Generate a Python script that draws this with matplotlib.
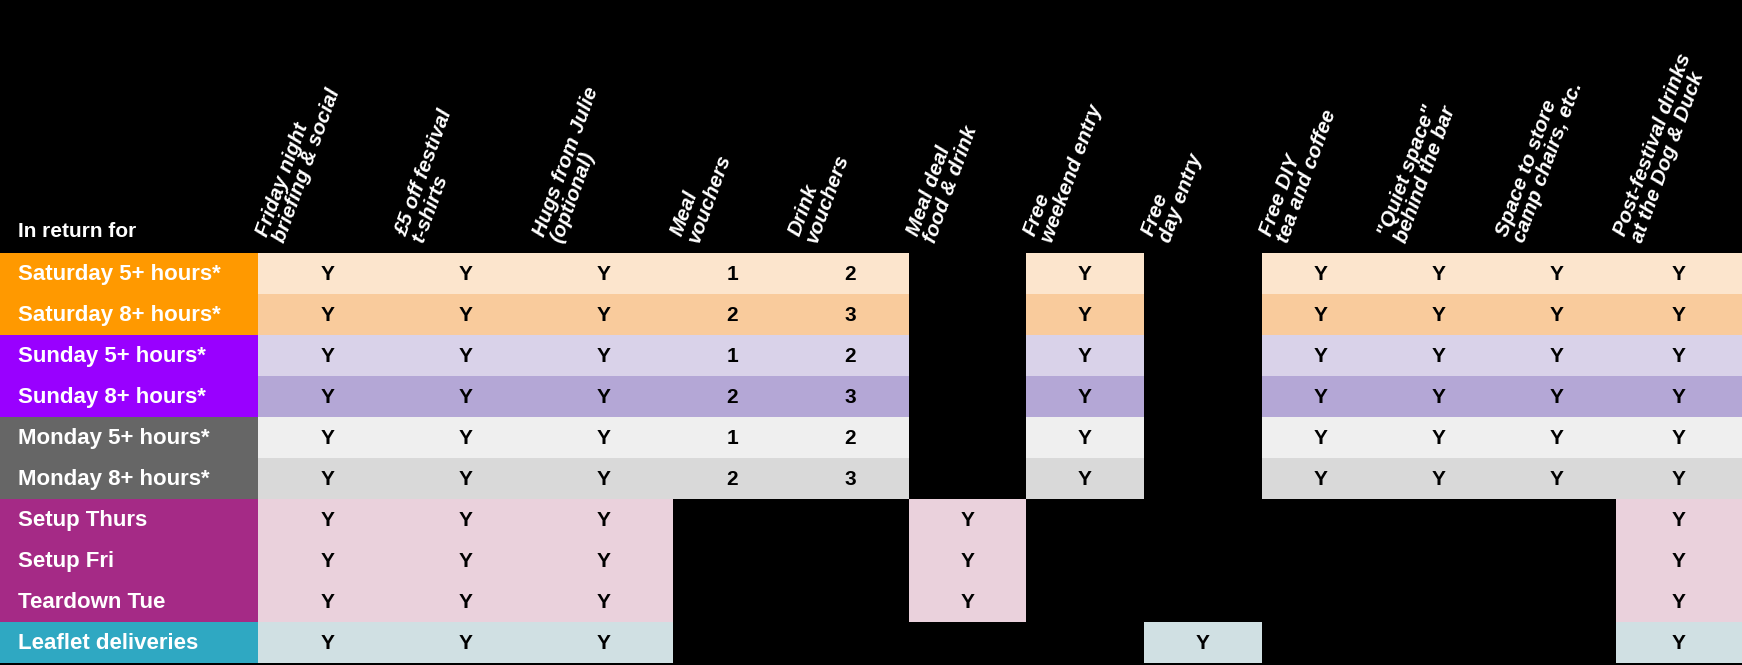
import matplotlib; matplotlib.use('Agg')
import matplotlib.pyplot as plt
from matplotlib.patches import Rectangle

plt.rcParams['font.family'] = ['Liberation Sans', 'DejaVu Sans']

columns = ["Friday night\nbriefing & social", "£5 off festival\nt-shirts", "Hugs from Julie\n(optional)",
           "Meal\nvouchers", "Drink\nvouchers", "Meal deal\nfood & drink", "Free\nweekend entry",
           "Free\nday entry", "Free DIY\ntea and coffee", "\"Quiet space\"\nbehind the bar",
           "Space to store\ncamp chairs, etc.", "Post-festival drinks\nat the Dog & Duck"]
rows = ["Saturday 5+ hours*", "Saturday 8+ hours*", "Sunday 5+ hours*", "Sunday 8+ hours*",
        "Monday 5+ hours*", "Monday 8+ hours*", "Setup Thurs", "Setup Fri", "Teardown Tue",
        "Leaflet deliveries"]
Y = "Y"
table = [
    [Y, Y, Y, "1", "2", "", Y, "", Y, Y, Y, Y],
    [Y, Y, Y, "2", "3", "", Y, "", Y, Y, Y, Y],
    [Y, Y, Y, "1", "2", "", Y, "", Y, Y, Y, Y],
    [Y, Y, Y, "2", "3", "", Y, "", Y, Y, Y, Y],
    [Y, Y, Y, "1", "2", "", Y, "", Y, Y, Y, Y],
    [Y, Y, Y, "2", "3", "", Y, "", Y, Y, Y, Y],
    [Y, Y, Y, "", "", Y, "", "", "", "", "", Y],
    [Y, Y, Y, "", "", Y, "", "", "", "", "", Y],
    [Y, Y, Y, "", "", Y, "", "", "", "", "", Y],
    [Y, Y, Y, "", "", "", "", Y, "", "", "", Y],
]
# shaded cells (shown even when empty) per row group
shaded_hours = [0, 1, 2, 3, 4, 6, 8, 9, 10, 11]
shaded = [shaded_hours] * 6 + [[0, 1, 2, 5, 11]] * 3 + [[0, 1, 2, 7, 11]]
cell_colors = ["#fce5cd", "#f9cb9c", "#d9d2e9", "#b4a7d6", "#efefef", "#d9d9d9",
               "#ead1dc", "#ead1dc", "#ead1dc", "#d0e0e3"]
label_colors = ["#ff9900", "#ff9900", "#9900ff", "#9900ff", "#666666", "#666666",
                "#a52a86", "#a52a86", "#a52a86", "#2fa8c2"]

# layout in pixels
col_edges = [258, 397, 535, 673, 791, 909, 1026, 1144, 1262, 1380, 1498, 1616, 1742]
top = 253
row_h = 41

fig = plt.figure(figsize=(17.42, 6.65), dpi=100, facecolor='black')
ax = fig.add_axes([0, 0, 1, 1])
ax.set_facecolor('black')
ax.set_xlim(0, 1742)
ax.set_ylim(665, 0)
ax.axis('off')

ax.text(18, top - 12, "In return for", color='white', fontsize=15, fontweight='bold',
        ha='left', va='bottom')

for j, name in enumerate(columns):
    ax.text(col_edges[j] + 30, top - 8, name, color='white', fontsize=15, fontweight='bold',
            fontstyle='italic', rotation=70, rotation_mode='anchor', ha='left', va='bottom',
            linespacing=0.95)

for i, r in enumerate(rows):
    y0 = top + i * row_h
    ax.add_patch(Rectangle((0, y0), col_edges[0], row_h, color=label_colors[i], lw=0))
    ax.text(18, y0 + row_h / 2 + 1, r, color='white', fontsize=16, fontweight='bold',
            ha='left', va='center')
    for j in shaded[i]:
        ax.add_patch(Rectangle((col_edges[j], y0), col_edges[j + 1] - col_edges[j], row_h,
                               color=cell_colors[i], lw=0))
    for j, v in enumerate(table[i]):
        if v:
            ax.text((col_edges[j] + col_edges[j + 1]) / 2, y0 + row_h / 2 + 1, v, color='black',
                    fontsize=15, fontweight='bold', ha='center', va='center')

fig.savefig('out.png', dpi=100, facecolor='black')
